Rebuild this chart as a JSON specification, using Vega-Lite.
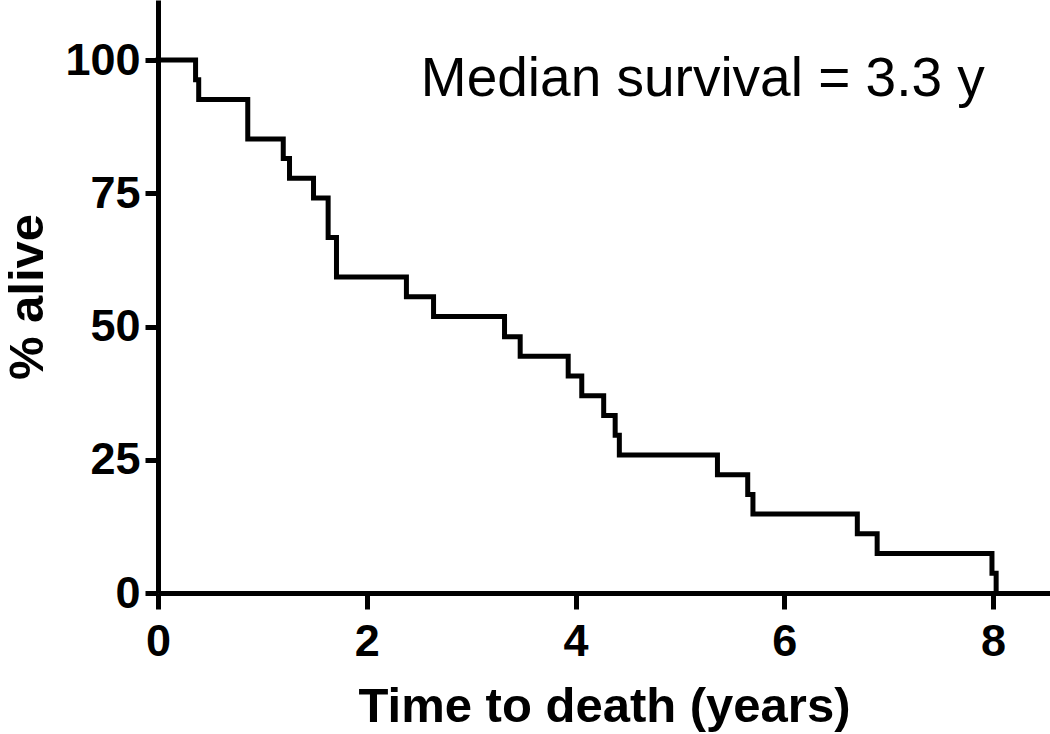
{
  "$schema": "https://vega.github.io/schema/vega-lite/v6.json",
  "autosize": "none",
  "width": 892,
  "height": 593,
  "padding": {"left": 158, "top": 0, "right": 0, "bottom": 141},
  "background": "white",
  "config": {
    "view": {"stroke": null},
    "axis": {
      "grid": false,
      "domainColor": "black",
      "domainWidth": 5,
      "tickColor": "black",
      "tickWidth": 5,
      "labelFont": "Liberation Sans",
      "labelFontWeight": "bold",
      "labelColor": "black",
      "labelFontSize": 45,
      "titleFont": "Liberation Sans",
      "titleFontWeight": "bold",
      "titleColor": "black"
    }
  },
  "datasets": {
    "km": [
      {"t": 0, "pct": 100},
      {"t": 0.36, "pct": 96.3},
      {"t": 0.39, "pct": 92.6},
      {"t": 0.86, "pct": 85.2},
      {"t": 1.2, "pct": 81.5},
      {"t": 1.26, "pct": 77.8},
      {"t": 1.49, "pct": 74.1},
      {"t": 1.63, "pct": 66.7},
      {"t": 1.71, "pct": 59.3},
      {"t": 2.38, "pct": 55.6},
      {"t": 2.64, "pct": 51.9},
      {"t": 3.32, "pct": 48.1},
      {"t": 3.47, "pct": 44.4},
      {"t": 3.93, "pct": 40.7},
      {"t": 4.06, "pct": 37.0},
      {"t": 4.27, "pct": 33.3},
      {"t": 4.38, "pct": 29.6},
      {"t": 4.42, "pct": 25.9},
      {"t": 5.36, "pct": 22.2},
      {"t": 5.65, "pct": 18.5},
      {"t": 5.7, "pct": 14.8},
      {"t": 6.7, "pct": 11.1},
      {"t": 6.89, "pct": 7.4},
      {"t": 7.99, "pct": 3.7},
      {"t": 8.03, "pct": 0}
    ],
    "note": [
      {"t": 5.22, "pct": 96.5, "label": "Median survival = 3.3 y"}
    ]
  },
  "layer": [
    {
      "data": {"name": "km"},
      "mark": {"type": "line", "interpolate": "step-after", "color": "black", "strokeWidth": 5, "strokeCap": "square", "clip": false},
      "encoding": {
        "x": {
          "field": "t", "type": "quantitative",
          "scale": {"domain": [0, 8.546], "nice": false, "zero": false},
          "axis": {"values": [0, 2, 4, 6, 8], "format": "d", "title": "Time to death (years)", "titleFontSize": 49, "tickSize": 16, "labelPadding": 10, "titlePadding": 18, "labelFlush": false}
        },
        "y": {
          "field": "pct", "type": "quantitative",
          "scale": {"domain": [0, 111.26], "nice": false},
          "axis": {"values": [0, 25, 50, 75, 100], "format": "d", "title": "% alive", "titleFontSize": 49, "tickSize": 13, "labelPadding": 5, "titlePadding": 12, "labelFlush": false}
        }
      }
    },
    {
      "data": {"name": "note"},
      "mark": {"type": "text", "font": "Liberation Sans", "fontSize": 55, "color": "black", "align": "center", "baseline": "middle"},
      "encoding": {
        "x": {"field": "t", "type": "quantitative"},
        "y": {"field": "pct", "type": "quantitative"},
        "text": {"field": "label"}
      }
    }
  ]
}
